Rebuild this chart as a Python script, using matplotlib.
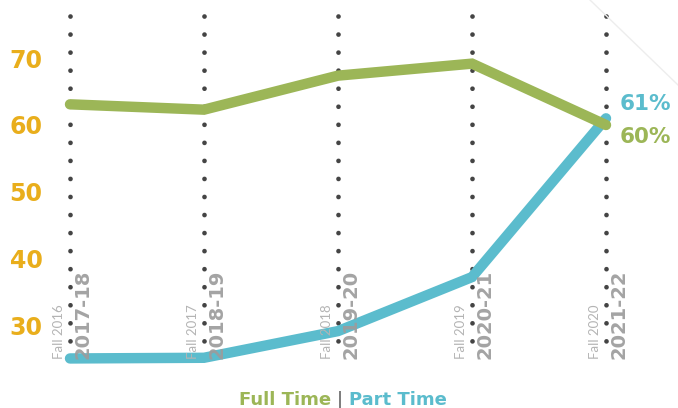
import matplotlib
matplotlib.use("Agg")
import matplotlib.pyplot as plt
from matplotlib.lines import Line2D

years = ["2017-18", "2018-19", "2019-20", "2020-21", "2021-22"]
falls = ["Fall 2016", "Fall 2017", "Fall 2018", "Fall 2019", "Fall 2020"]
full_time = [63.1, 62.3, 67.4, 69.2, 60]
part_time = [25.0, 25.1, 29.1, 37.2, 61]
yticks = [30, 40, 50, 60, 70]
end_labels = ["61%", "60%"]

GREEN = "#9CB657"
BLUE = "#5BBCCD"
GOLD = "#E9AE1C"
DOT = "#444444"
LABEL_GRAY = "#9C9C9C"
FALL_GRAY = "#B4B4B4"

W, H = 678, 408
fig = plt.figure(figsize=(W / 100, H / 100), dpi=100)
ax = fig.add_axes([55 / W, 0, 1 - 55 / W, 1])

px_per_x = 134.0
px_per_y = 6.67
x0_px = 70.0
y60_px = 125.0
ax.set_xlim((55 - x0_px) / px_per_x, (W - x0_px) / px_per_x)
ax.set_ylim(60 - (H - y60_px) / px_per_y, 60 + y60_px / px_per_y)

for s in ax.spines.values():
    s.set_visible(False)
ax.set_xticks([])
ax.set_yticks(yticks)
ax.set_yticklabels([str(t) for t in yticks], color=GOLD, fontsize=17,
                   fontweight="bold")
ax.tick_params(axis="y", length=0, pad=9)

xs = list(range(len(years)))

# dotted vertical guides
top_val = 60 + (y60_px - 15.7) / px_per_y
bot_val = 60 - (358 - y60_px) / px_per_y
lw_dot = 3.4
gap = 18.0 / (lw_dot * 100 / 72)
for x in xs:
    ax.plot([x, x], [top_val, bot_val], color=DOT, lw=lw_dot,
            linestyle=(0, (0.01, gap)), dash_capstyle="round", zorder=1)

# lines
ax.plot(xs, part_time, color=BLUE, lw=7.5, solid_capstyle="round",
        solid_joinstyle="miter", zorder=3)
ax.plot(xs, full_time, color=GREEN, lw=7.5, solid_capstyle="round",
        solid_joinstyle="miter", zorder=4)

# category labels
base_val = 60 - (359 - y60_px) / px_per_y
for x, yl, fl in zip(xs, years, falls):
    ax.text(x + 13 / px_per_x, base_val, yl, rotation=90, ha="center",
            va="bottom", color=LABEL_GRAY, fontsize=14, fontweight="bold",
            alpha=0.92, zorder=5)
    ax.text(x - 11 / px_per_x, base_val, fl, rotation=90, ha="center",
            va="bottom", color=FALL_GRAY, fontsize=9.5, family="Lato",
            zorder=5)

# end labels
ax.text(xs[-1] + 14 / px_per_x, part_time[-1] + (118.3 - 104) / px_per_y,
        end_labels[0], color=BLUE, fontsize=15.5, fontweight="bold",
        ha="left", va="center", zorder=6)
ax.text(xs[-1] + 14 / px_per_x, full_time[-1] - (137 - 125) / px_per_y,
        end_labels[1], color=GREEN, fontsize=15.5, fontweight="bold",
        ha="left", va="center", zorder=6)

# faint decorative diagonal
fig.add_artist(Line2D([590 / W, 1.0], [1.0, 1 - 85 / H], color="#EDEDED",
                      lw=1.0, transform=fig.transFigure))

# legend text
ly = 1 - 400 / H
fig.text(331 / W, ly, "Full Time", color=GREEN, fontsize=13,
         fontweight="bold", ha="right", va="center")
fig.text(340 / W, ly, "|", color="#555555", fontsize=13, ha="center",
         va="center")
fig.text(349 / W, ly, "Part Time", color=BLUE, fontsize=13,
         fontweight="bold", ha="left", va="center")

fig.savefig("out.png", dpi=100)
